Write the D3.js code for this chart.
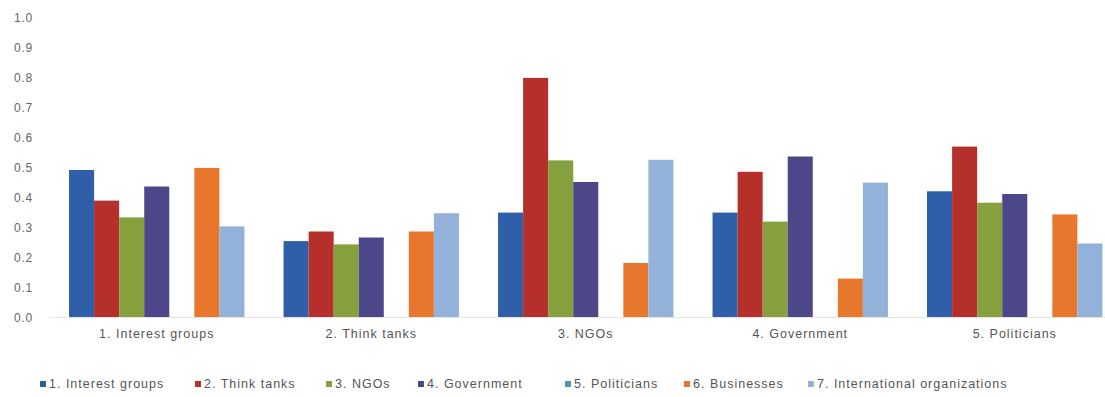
<html>
<head>
<script src="https://d3js.org/d3.v7.min.js"></script>
<style>
  body { margin: 0; background: #fff; }
  text { font-family: "Liberation Sans", Arial, sans-serif; }
  .tick text { fill: #666; font-size: 12px; letter-spacing: 0.8px; }
  .cat text { fill: #555; font-size: 12.5px; letter-spacing: 1px; }
  .legend text { fill: #555; font-size: 12.5px; letter-spacing: 1px; }
</style>
</head>
<body>
<svg id="chart" width="1105" height="397"></svg>
<script>
const categories = ["1. Interest groups", "2. Think tanks", "3. NGOs", "4. Government", "5. Politicians"];
const seriesNames = ["1. Interest groups", "2. Think tanks", "3. NGOs", "4. Government", "5. Politicians", "6. Businesses", "7. International organizations"];
const colors = ["#2e5fa8", "#b5302b", "#86a03e", "#4b4789", "#4a9aa8", "#e8772e", "#93b2da"];
// values per series, one per category (series 5 has no bars)
const interestGroups = [0.49, 0.253, 0.348, 0.348, 0.419];
const thinkTanks     = [0.388, 0.285, 0.797, 0.484, 0.568];
const ngos           = [0.332, 0.242, 0.522, 0.318, 0.381];
const government     = [0.435, 0.265, 0.45, 0.535, 0.41];
const politicians    = [null, null, null, null, null];
const businesses     = [0.497, 0.285, 0.18, 0.128, 0.342];
const intlOrgs       = [0.302, 0.346, 0.524, 0.448, 0.245];
const series = [interestGroups, thinkTanks, ngos, government, politicians, businesses, intlOrgs];
const yTicks = [0, 0.1, 0.2, 0.3, 0.4, 0.5, 0.6, 0.7, 0.8, 0.9, 1.0];

const svg = d3.select("#chart");
const plotLeft = 49.5, pitch = 214.5, plotTop = 17, base = 317;
const plotRight = plotLeft + pitch * categories.length;

const x0 = d3.scaleBand().domain(categories).range([plotLeft, plotRight]).paddingInner(0).paddingOuter(0);
const x1 = d3.scaleBand().domain(d3.range(seriesNames.length)).range([0, x0.bandwidth()]).paddingInner(0).paddingOuter(0.78);
const y = d3.scaleLinear().domain([0, 1]).range([base, plotTop]);

// y axis labels
const yAxis = d3.axisLeft(y).tickValues(yTicks).tickFormat(d3.format(".1f")).tickSize(0).tickPadding(0);
svg.append("g")
  .attr("transform", "translate(33,1)")
  .call(yAxis)
  .call(g => g.select(".domain").remove());

// bars
const groups = svg.append("g").selectAll("g").data(categories)
  .join("g")
  .attr("transform", d => "translate(" + x0(d) + ",0)");

groups.selectAll("rect")
  .data((c, ci) => series.map((s, si) => ({si: si, v: s[ci]})).filter(d => d.v != null))
  .join("rect")
  .attr("x", d => x1(d.si))
  .attr("width", x1.bandwidth())
  .attr("y", d => y(d.v))
  .attr("height", d => base - y(d.v))
  .attr("fill", d => colors[d.si]);

// baseline
svg.append("line")
  .attr("x1", plotLeft).attr("x2", plotRight)
  .attr("y1", base + 0.5).attr("y2", base + 0.5)
  .attr("stroke", "#e4e4e4");

// category labels
const xAxis = d3.axisBottom(x0).tickSize(0).tickPadding(0);
svg.append("g")
  .attr("class", "cat")
  .attr("transform", "translate(0," + (base + 12) + ")")
  .call(xAxis)
  .call(g => g.select(".domain").remove());

// legend
const legendX = [40, 195, 326, 418, 565, 684, 808];
const legend = svg.append("g").attr("class", "legend")
  .selectAll("g").data(seriesNames)
  .join("g")
  .attr("transform", (d, i) => "translate(" + legendX[i] + ",386)");
legend.append("rect")
  .attr("x", 0).attr("y", -5).attr("width", 6).attr("height", 6)
  .attr("fill", (d, i) => colors[i]);
legend.append("text")
  .attr("x", 9).attr("y", 2)
  .text(d => d);
</script>
</body>
</html>
